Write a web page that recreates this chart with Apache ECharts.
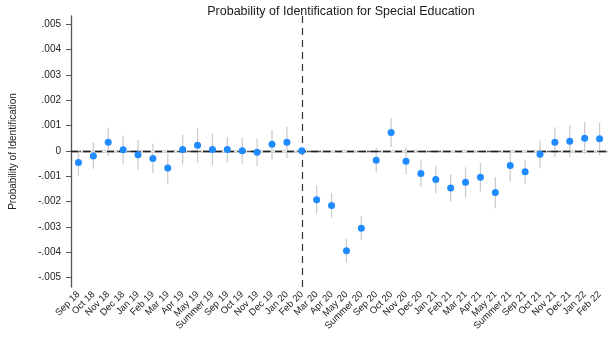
<!DOCTYPE html>
<html>
<head>
<meta charset="utf-8">
<script src="https://cdn.jsdelivr.net/npm/echarts@6/dist/echarts.min.js"></script>
<style>
  html, body { margin: 0; padding: 0; background: #fff; }
  #chart { width: 613px; height: 337px; }
</style>
</head>
<body>
<div id="chart"></div>
<script>
const categories = ["Sep 18","Oct 18","Nov 18","Dec 18","Jan 19","Feb 19","Mar 19","Apr 19","May 19","Summer 19","Sep 19","Oct 19","Nov 19","Dec 19","Jan 20","Feb 20","Mar 20","Apr 20","May 20","Summer 20","Sep 20","Oct 20","Nov 20","Dec 20","Jan 21","Feb 21","Mar 21","Apr 21","May 21","Summer 21","Sep 21","Oct 21","Nov 21","Dec 21","Jan 22","Feb 22"];

const estimates = [-0.00046,-0.00020,0.00034,0.00004,-0.00015,-0.00030,-0.00068,0.00005,0.00022,0.00005,0.00005,0.00000,-0.00005,0.00026,0.00034,0.00000,-0.00193,-0.00216,-0.00394,-0.00305,-0.00037,0.00072,-0.00041,-0.00089,-0.00113,-0.00146,-0.00124,-0.00104,-0.00164,-0.00058,-0.00082,-0.00013,0.00034,0.00038,0.00050,0.00048];

const ciUpper = [-0.00002,0.00034,0.00091,0.00061,0.00043,0.00028,-0.00011,0.00064,0.00088,0.00068,0.00055,0.00053,0.00048,0.00083,0.00096,null,-0.00137,-0.00166,-0.00347,-0.00258,0.00012,0.00130,0.00014,-0.00038,-0.00061,-0.00093,-0.00065,-0.00047,-0.00104,-0.00002,-0.00038,0.00041,0.00093,0.00100,0.00114,0.00112];

const ciLower = [-0.00097,-0.00071,-0.00021,-0.00051,-0.00074,-0.00087,-0.00129,-0.00054,-0.00047,-0.00058,-0.00045,-0.00051,-0.00061,-0.00034,-0.00028,null,-0.00248,-0.00264,-0.00441,-0.00352,-0.00084,0.00014,-0.00093,-0.00143,-0.00168,-0.00199,-0.00185,-0.00160,-0.00226,-0.00120,-0.00129,-0.00070,-0.00025,-0.00024,-0.00012,-0.00017];

const yTickValues = [-0.005,-0.004,-0.003,-0.002,-0.001,0,0.001,0.002,0.003,0.004,0.005];
const yTickLabels = ["-.005","-.004","-.003","-.002","-.001","0",".001",".002",".003",".004",".005"];

const breakCategory = "Feb 20";

const chart = echarts.init(document.getElementById('chart'), null, { renderer: 'canvas' });

const barData = categories.map((c, i) => [i, ciLower[i], ciUpper[i]]).filter(d => d[1] !== null);

const gridLines = yTickValues.filter(v => v !== 0).map(v => ({ yAxis: v }));

chart.setOption({
  animation: false,
  backgroundColor: '#ffffff',
  title: {
    text: 'Probability of Identification for Special Education',
    left: 336,
    textAlign: 'center',
    top: 0,
    textStyle: { fontFamily: 'Liberation Sans, Arial, sans-serif', fontSize: 12.5, fontWeight: 'normal', color: '#1a1a1a' }
  },
  grid: { left: 69, right: 6, top: 16, bottom: 50 },
  xAxis: {
    type: 'category',
    data: categories,
    boundaryGap: true,
    axisLine: { lineStyle: { color: '#555', width: 1.3 } },
    axisTick: { alignWithLabel: true, length: 4, lineStyle: { color: '#555' }, interval: 0 },
    axisLabel: {
      interval: 0, rotate: 45, margin: 6,
      fontFamily: 'Liberation Sans, Arial, sans-serif', fontSize: 9.5, color: '#222'
    },
    splitLine: { show: false }
  },
  yAxis: {
    type: 'value',
    min: -0.00537,
    max: 0.00532,
    name: 'Probability of Identification',
    nameLocation: 'middle',
    nameGap: 53,
    nameTextStyle: { fontFamily: 'Liberation Sans, Arial, sans-serif', fontSize: 10, color: '#222' },
    axisLine: { show: true, lineStyle: { color: '#555', width: 1.3 } },
    axisTick: { show: true, length: 5, customValues: yTickValues, lineStyle: { color: '#555' } },
    axisLabel: {
      customValues: yTickValues,
      margin: 10,
      fontFamily: 'Liberation Sans, Arial, sans-serif', fontSize: 10, color: '#222',
      formatter: function (v) {
        let best = 0, bd = Infinity;
        yTickValues.forEach((t, k) => { const d = Math.abs(t - v); if (d < bd) { bd = d; best = k; } });
        return yTickLabels[best];
      }
    },
    splitLine: { show: false }
  },
  series: [
    {
      type: 'custom',
      data: barData,
      silent: true,
      z: 2,
      renderItem: function (params, api) {
        const x = api.value(0);
        const p1 = api.coord([x, api.value(1)]);
        const p2 = api.coord([x, api.value(2)]);
        return {
          type: 'line',
          shape: { x1: p1[0], y1: p1[1], x2: p2[0], y2: p2[1] },
          style: { stroke: '#cdcdcd', lineWidth: 1.3 }
        };
      },
      markLine: {
        silent: true, symbol: 'none', label: { show: false },
        lineStyle: { color: '#e6e6e6', type: [6, 4], width: 1 },
        data: gridLines
      }
    },
    {
      type: 'scatter',
      data: estimates.map((v, i) => [i, v]),
      symbol: 'circle',
      symbolSize: 7,
      itemStyle: { color: '#1f8bff', opacity: 1 },
      z: 5,
      markLine: {
        silent: true, symbol: 'none', label: { show: false },
        data: [
          { yAxis: 0, lineStyle: { color: '#222', type: [7, 5], width: 1.4 } },
          { xAxis: breakCategory, lineStyle: { color: '#333', type: [7, 5], width: 1.2 } }
        ]
      }
    }
  ]
});
</script>
</body>
</html>
